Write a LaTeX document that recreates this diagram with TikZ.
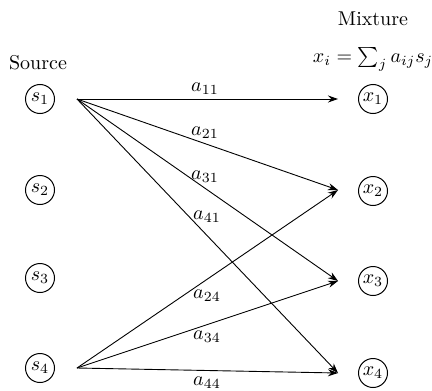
\documentclass[tikz,border=0pt]{standalone}
\usetikzlibrary{arrows.meta}
\begin{document}
\begin{tikzpicture}[x=0.5pt,y=-0.5pt,
  var/.style={draw,circle,line width=0.5pt,minimum size=14.5pt,inner sep=0pt},
  edge/.style={line width=0.45pt,-{Stealth[length=5pt,width=3.5pt]}},
  lbl/.style={inner sep=0pt},
  txt/.style={inner sep=0pt}]
\useasboundingbox (0,0) rectangle (432,390);
\node[var] (s1) at (40,99) {$s_1$};
\node[var] (s2) at (40,190) {$s_2$};
\node[var] (s3) at (40,278) {$s_3$};
\node[var] (s4) at (40,368) {$s_4$};
\node[var] (x1) at (373,99) {$x_1$};
\node[var] (x2) at (373,191) {$x_2$};
\node[var] (x3) at (373,281) {$x_3$};
\node[var] (x4) at (373,373) {$x_4$};
\node[txt] (src) at (38,63) {Source};
\node[txt] (mix) at (373,19) {Mixture};
\node[txt] (eq) at (373,59) {$x_i=\sum_j a_{ij}s_j$};
\coordinate (o1) at (77,99);
\coordinate (o4) at (77,368);
\coordinate (i1) at (338,99);
\coordinate (i2) at (338,190);
\coordinate (i3) at (338,281);
\coordinate (i4) at (338,373);
\draw[edge] (o1) -- (i1);
\draw[edge] (o1) -- (i2);
\draw[edge] (o1) -- (i3);
\draw[edge] (o1) -- (i4);
\draw[edge] (o4) -- (i2);
\draw[edge] (o4) -- (i3);
\draw[edge] (o4) -- (i4);
\node[lbl] (l11) at (205,89) {$a_{11}$};
\node[lbl] (l21) at (205,133) {$a_{21}$};
\node[lbl] (l31) at (205,177) {$a_{31}$};
\node[lbl] (l41) at (207,217) {$a_{41}$};
\node[lbl] (l24) at (207,296) {$a_{24}$};
\node[lbl] (l34) at (207,337) {$a_{34}$};
\node[lbl] (l44) at (207,383) {$a_{44}$};
\end{tikzpicture}
\end{document}
